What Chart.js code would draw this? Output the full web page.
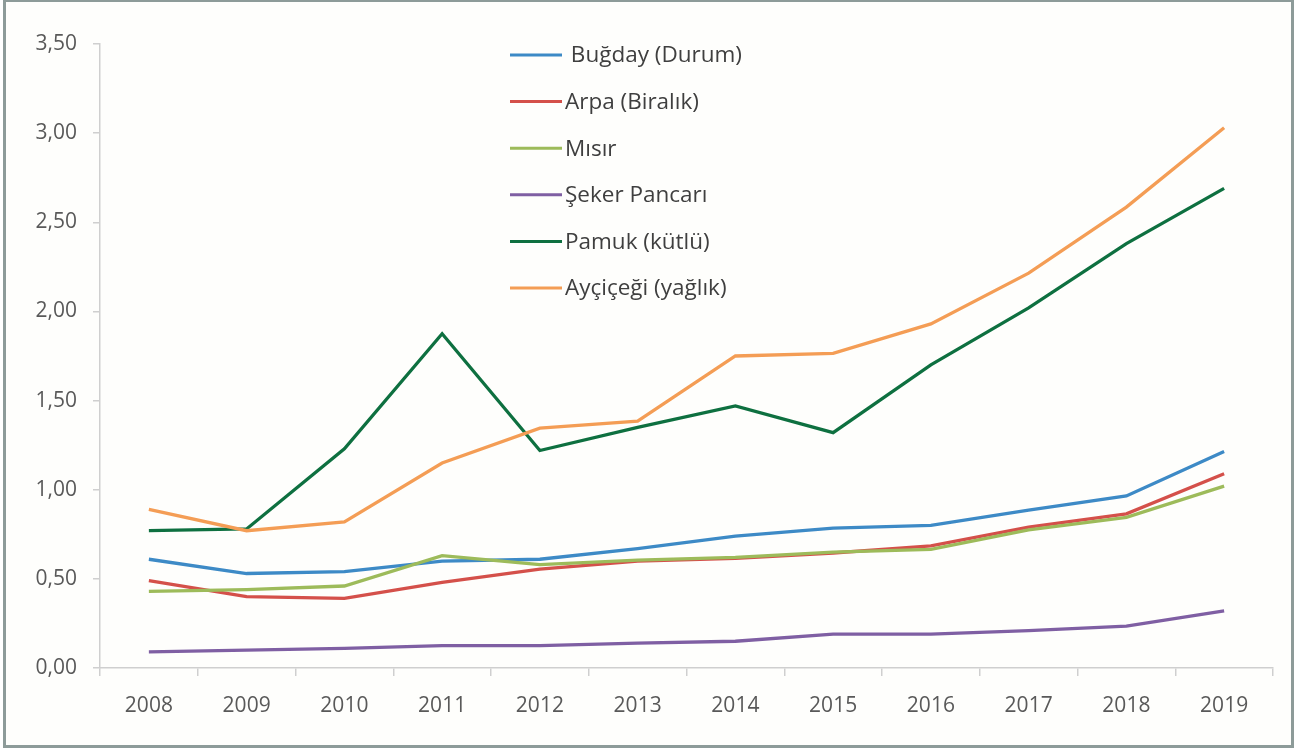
<!DOCTYPE html>
<html>
<head>
<meta charset="utf-8">
<script src="https://cdn.jsdelivr.net/npm/chart.js@4"></script>
<style>
  html, body { margin: 0; padding: 0; background: #ffffff; }
  #frame { position: absolute; left: 3px; top: -1px; width: 1285px; height: 743px; border: 3px solid #8d9b99; background: #fefefc; }
  #wrap { position: absolute; left: 0; top: 0; width: 1306px; height: 749px; }
</style>
</head>
<body>
<div id="frame"></div>
<div id="wrap"><canvas id="c" width="1306" height="749"></canvas></div>
<script>
const years = ["2008","2009","2010","2011","2012","2013","2014","2015","2016","2017","2018","2019"];
const seriesNames = [" Buğday (Durum)", "Arpa (Biralık)", "Mısır", "Şeker Pancarı", "Pamuk (kütlü)", "Ayçiçeği (yağlık)"];
const bugday   = [0.61, 0.53, 0.54, 0.60, 0.61, 0.67, 0.74, 0.785, 0.80, 0.885, 0.965, 1.215];
const arpa     = [0.49, 0.40, 0.39, 0.48, 0.555, 0.60, 0.615, 0.645, 0.685, 0.79, 0.865, 1.09];
const misir    = [0.43, 0.44, 0.46, 0.63, 0.58, 0.605, 0.62, 0.65, 0.665, 0.775, 0.845, 1.02];
const seker    = [0.09, 0.10, 0.11, 0.125, 0.125, 0.14, 0.15, 0.19, 0.19, 0.21, 0.235, 0.32];
const pamuk    = [0.77, 0.78, 1.23, 1.875, 1.22, 1.35, 1.47, 1.32, 1.70, 2.02, 2.38, 2.69];
const aycicegi = [0.89, 0.77, 0.82, 1.15, 1.345, 1.385, 1.75, 1.765, 1.93, 2.215, 2.585, 3.03];
const yTicks = [0, 0.5, 1, 1.5, 2, 2.5, 3, 3.5];

const allSeries = [bugday, arpa, misir, seker, pamuk, aycicegi];
const colors = ["#3d8ac6", "#d4504a", "#9dbb5a", "#7f5fa3", "#0e7040", "#f49d55"];

const AXIS_LEFT = 100, AXIS_RIGHT = 1273, AXIS_BOTTOM = 668;

const legendPlugin = {
  id: 'insideLegend',
  afterDraw(chart) {
    const ctx = chart.ctx;
    ctx.save();
    chart.data.datasets.forEach((ds, i) => {
      const y = 55 + i * 46.6;
      ctx.strokeStyle = ds.borderColor;
      ctx.lineWidth = 3;
      ctx.beginPath();
      ctx.moveTo(510, y);
      ctx.lineTo(562, y);
      ctx.stroke();
      ctx.fillStyle = '#3f3f3f';
      ctx.font = '22.5px "Open Sans"';
      ctx.textBaseline = 'middle';
      ctx.textAlign = 'left';
      ctx.fillText(ds.label, 565, y + 1);
    });
    ctx.restore();
  }
};

new Chart(document.getElementById('c'), {
  type: 'line',
  data: {
    labels: years,
    datasets: allSeries.map((d, i) => ({
      label: seriesNames[i],
      data: d,
      borderColor: colors[i],
      backgroundColor: colors[i],
      borderWidth: 3.3,
      pointRadius: 0,
      tension: 0,
      fill: false,
      order: allSeries.length - i
    }))
  },
  options: {
    responsive: false,
    animation: false,
    layout: { padding: { left: 0, right: 1306 - AXIS_RIGHT, top: 44, bottom: 0 } },
    plugins: { legend: { display: false }, tooltip: { enabled: false } },
    scales: {
      x: {
        type: 'category',
        offset: true,
        grid: { display: true, offset: true, drawOnChartArea: false, color: '#cfcfcf', tickLength: 8, lineWidth: 1.5 },
        border: { display: true, color: '#cfcfcf', width: 1.5 },
        ticks: { color: '#595959', font: { family: 'Open Sans', size: 21 }, padding: 17, maxRotation: 0 },
        afterFit(scale) { scale.height = 749 - AXIS_BOTTOM; }
      },
      y: {
        min: 0, max: 3.5,
        afterBuildTicks(scale) { scale.ticks = yTicks.map(v => ({ value: v })); },
        grid: { display: true, drawOnChartArea: false, color: '#cfcfcf', tickLength: 7, lineWidth: 1.5 },
        border: { display: true, color: '#cfcfcf', width: 1.5 },
        ticks: {
          color: '#595959', font: { family: 'Open Sans', size: 21 }, padding: 16,
          callback: v => Number(v).toFixed(2).replace('.', ',')
        },
        afterFit(scale) { scale.width = AXIS_LEFT; }
      }
    }
  },
  plugins: [legendPlugin]
});
</script>
</body>
</html>
